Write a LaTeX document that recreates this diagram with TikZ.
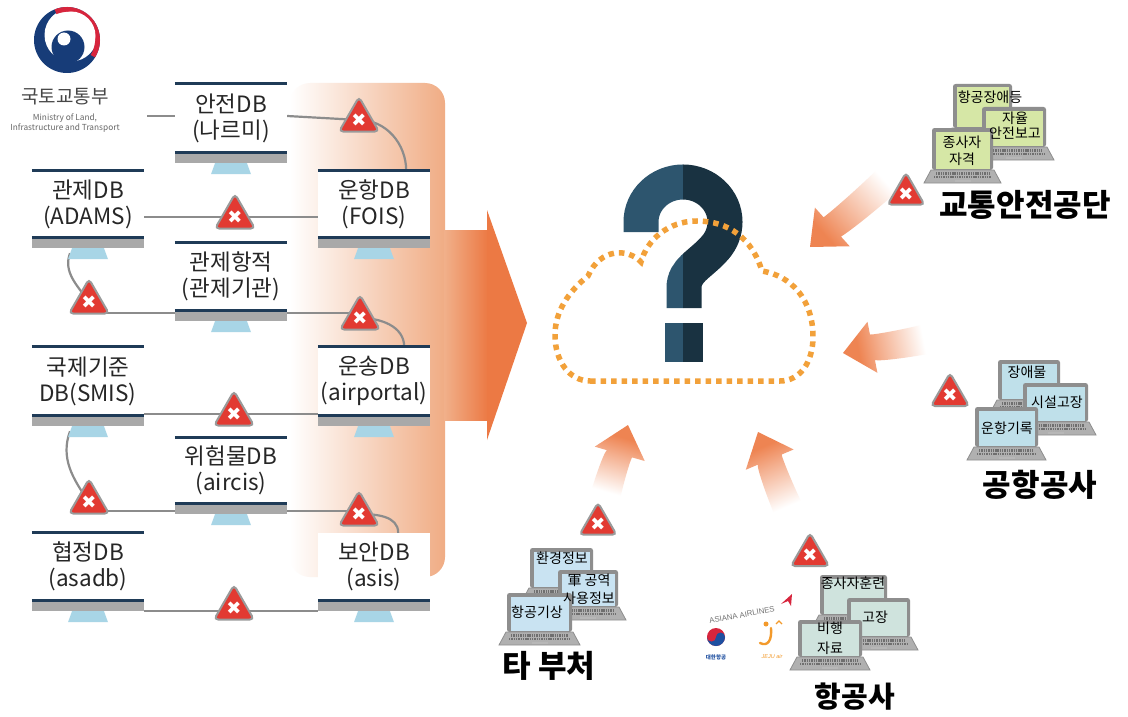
\documentclass[tikz,border=0pt]{standalone}
\usepackage{fontspec}
\setmainfont{Noto Sans CJK KR}
\newfontfamily\symfont{DejaVu Sans}
\newfontfamily\latinfont{Liberation Sans}
\usetikzlibrary{shapes.geometric,calc}

\definecolor{navy}{HTML}{1F3B57}
\definecolor{barGray}{HTML}{A9A9A9}
\definecolor{standBlue}{HTML}{A8D5E6}
\definecolor{linkGray}{HTML}{8C8C8C}
\definecolor{warnRed}{HTML}{E23A32}
\definecolor{warnEdge}{HTML}{9A9A9A}
\definecolor{peach}{HTML}{F0AC84}
\definecolor{arrowOrange}{HTML}{EC7944}
\definecolor{softOrange}{HTML}{EE8452}
\definecolor{cloudOrange}{HTML}{F2A13A}
\definecolor{qLight}{HTML}{2D556E}
\definecolor{qDark}{HTML}{193241}
\definecolor{scrGreen}{HTML}{D6E7A6}
\definecolor{scrBlue}{HTML}{BFE0EA}
\definecolor{scrSky}{HTML}{C9E3F2}
\definecolor{scrTeal}{HTML}{CFE3DD}
\definecolor{frameGray}{HTML}{8E8E8E}
\definecolor{keyGray}{HTML}{B0B0B0}
\definecolor{keyDark}{HTML}{6F6F6F}
\definecolor{emblemBlue}{HTML}{173C78}
\definecolor{emblemRed}{HTML}{D7253D}
\definecolor{kalBlue}{HTML}{1E4FA0}
\definecolor{jejuOrange}{HTML}{F39A2B}

\pgfdeclarelayer{back}
\pgfdeclarelayer{links}
\pgfsetlayers{back,links,main}

% fade from white (tail) to orange (head) along x
\pgfdeclarehorizontalshading{softfade}{100bp}{color(0bp)=(white); color(25bp)=(white); color(38bp)=(white); color(58bp)=(softOrange!65); color(68bp)=(softOrange); color(100bp)=(softOrange)}

\tikzset{
  dbscreen/.style={fill=white, minimum width=112pt, inner sep=0pt, align=center, text=black!85, font=\fontsize{22.5}{26}\selectfont},
  link/.style={draw=linkGray, line width=2.2pt},
  topline/.style={draw=navy, line width=3pt},
  warn/.style={regular polygon, regular polygon sides=3, minimum size=#1, inner sep=0pt, fill=warnRed, draw=warnEdge, line width=2pt, rounded corners=4pt, text=white, font=\symfont\fontsize{18}{18}\selectfont},
  warn/.default=46pt,
  laptag/.style={inner sep=0pt, align=center, text=black, font=\fontsize{14}{16}\selectfont},
  org/.style={inner sep=0pt, text=black, font=\bfseries\fontsize{31}{31}\selectfont},
}

% desktop monitor: name, centre, screen height, text
\newcommand\monitor[4]{%
  \node[dbscreen, minimum height=#3] (#1) at #2 {#4};
  \fill[barGray] ($(#1.south west)+(0,1)$) rectangle ($(#1.south east)+(0,11)$);
  \draw[navy, line width=3pt] (#1.south west) -- (#1.south east);
  \fill[standBlue] ($(#1.south)+(-16,11)$) -- ($(#1.south)+(16,11)$) -- ($(#1.south)+(20,22)$) -- ($(#1.south)+(-20,22)$) -- cycle;
  \coordinate (#1-st) at ($(#1.south)+(-18,16)$);
}

% laptop: x1, y1, x2, y2 of the lid, screen colour
\newcommand\laptop[5]{%
  \fill[frameGray, rounded corners=2.5pt] (#1,#2) rectangle (#3,#4);
  \fill[#5] (#1+3.5,#2+3.5) rectangle (#3-3.5,#4-1);
  \fill[keyGray, draw=frameGray, line width=0.8pt] (#1-1,#4) -- (#3+1,#4) -- (#3+8,#4+13) -- (#1-8,#4+13) -- cycle;
  \draw[keyDark, line width=2.2pt, dash pattern=on 1.4pt off 0.9pt] (#1+4,#4+3.5) -- (#3-4,#4+3.5);
  \draw[keyDark, line width=2.2pt, dash pattern=on 1.4pt off 0.9pt] (#1+2,#4+7) -- (#3-2,#4+7);
  \fill[keyDark!50] ($(#1,#4)!0.5!(#3,#4)+(-8,10)$) rectangle ++(16,2);
}

% soft gradient arrow: tip, direction, length
\newcommand\softarrow[3]{%
  \begin{scope}[transform canvas={shift={#1}, rotate=#2}]
    \shade[shading=softfade] (-#3,-17) .. controls ({-0.6*#3},-18) and ({-0.3*#3},-15) .. (-30,-13) -- (-30,-26) -- (0,0) -- (-30,26) -- (-30,13) .. controls ({-0.3*#3},12) and ({-0.6*#3},11) .. (-#3,14) -- cycle;
  \end{scope}}

% question mark stroke
\newcommand\qmark[1]{%
  \draw[line width=35pt, #1] (641,232) -- (641,222) arc[start angle=180, end angle=400, x radius=42, y radius=40] .. controls (700,265) and (684,270) .. (684,288) -- (684,308);
  \fill[#1] (665,323) rectangle (703,362);
}

\begin{document}
\begin{tikzpicture}[x=1pt, y=-1pt]
\useasboundingbox (0,0) rectangle (1128,717);

\begin{pgfonlayer}{back}
  \fill[white] (0,0) rectangle (1128,717);
  % backdrop behind the right column and the big arrow
  \shade[left color=white, right color=peach, rounded corners=20pt] (290,83) rectangle (445,577);
  \shade[left color=peach!95, right color=arrowOrange] (444,230) rectangle (488,420);
  \fill[arrowOrange] (487,210) -- (527,323) -- (487,440) -- cycle;
  % soft arrows toward the cloud
  \softarrow{(810,247)}{222}{135}
  \softarrow{(843,353)}{191}{110}
  \softarrow{(628,425)}{74}{95}
  \softarrow{(758,432)}{113}{108}
\end{pgfonlayer}

% database monitors
\monitor{A}{(231,118)}{68}{안전DB\\(나르미)}
\monitor{B}{(88,204)}{66}{관제DB\\(ADAMS)}
\monitor{C}{(374,204)}{66}{운항DB\\(FOIS)}
\monitor{D}{(231,276.5)}{67}{관제항적\\(관제기관)}
\monitor{E}{(88,381)}{68}{국제기준\\DB(SMIS)}
\monitor{F}{(374,381)}{68}{운송DB\\(airportal)}
\monitor{G}{(231,470.5)}{65}{위험물DB\\(aircis)}
\monitor{H}{(88,566.5)}{67}{협정DB\\(asadb)}
\monitor{I}{(374,566.5)}{67}{보안DB\\(asis)}
\foreach \m in {A,B,C,D,E,F,G,H}
  \draw[topline] (\m.north west) -- (\m.north east);

% warning signs
\node[warn] (W1) at (359,120) {✖};
\node[warn] (W2) at (235,217) {✖};
\node[warn] (W3) at (89,302) {✖};
\node[warn] (W4) at (360,318) {✖};
\node[warn] (W5) at (234,414) {✖};
\node[warn] (W6) at (89,502) {✖};
\node[warn] (W7) at (359,514) {✖};
\node[warn] (W8) at (234,608) {✖};

% broken links between the databases
\coordinate (logoEnd) at (147,116);
\coordinate (dL) at ($(D.south west)+(0,3)$);
\coordinate (dR) at ($(D.south east)+(0,3)$);
\coordinate (gL) at ($(G.south west)+(0,8)$);
\coordinate (gR) at ($(G.south east)+(0,8)$);
\coordinate (hR) at ($(H.south east)+(0,11)$);
\begin{pgfonlayer}{links}
  \draw[link] (logoEnd) -- (A.west |- logoEnd);
  \draw[link] (A.east |- logoEnd) -- (W1.center);
  \draw[link] (W1.center) to[out=0, in=90] ($(C.north east)+(-24,0)$);
  \draw[link] (B.east |- W2.center) -- (C.west |- W2.center);
  \draw[link] (B-st) to[out=250, in=125] (W3.center);
  \draw[link] (W3.center |- dL) -- (dL);
  \draw[link] (dR) -- (W4.center |- dR);
  \draw[link] (W4.center) to[out=0, in=90] ($(F.north east)+(-26,0)$);
  \draw[link] (E.east |- W5.center) -- (F.west |- W5.center);
  \draw[link] (E-st) to[out=250, in=125] (W6.center);
  \draw[link] (W6.center |- gL) -- (gL);
  \draw[link] (gR) -- (W7.center |- gR);
  \draw[link] (W7.center) to[out=0, in=90] ($(I.north east)+(-32,0)$);
  \draw[link] (hR) -- (I.west |- hR);
\end{pgfonlayer}

% ministry emblem and name
\begin{scope}[shift={(67,40)}, x=1pt, y=1pt]
  \fill[emblemBlue] (0,0) circle (33);
  \fill[white] (4,5) circle (26.5);
  \draw[emblemRed, line width=5pt] (112:30.5) arc[start angle=112, end angle=-32, radius=30.5];
  \fill[white] (4,4) circle (24.5);
  \fill[emblemBlue] (1,-7) circle (16.5);
  \fill[white] (-3,1) circle (6.5);
\end{scope}
\node[inner sep=0pt, text=black!72, font=\fontsize{19}{20}\selectfont] (molit) at (65,97) {국토교통부};
\node[inner sep=0pt, align=center, text=black!60, font=\fontsize{8.3}{10.5}\selectfont] (molitEn) at (65,123) {Ministry of Land,\\Infrastructure and Transport};

% question mark inside the dotted cloud
\begin{scope}
  \clip (600,150) rectangle (683,380);
  \qmark{qLight}
\end{scope}
\begin{scope}
  \clip (683,150) rectangle (760,380);
  \qmark{qDark}
\end{scope}
\draw[cloudOrange, line width=5.5pt, dash pattern=on 5.5pt off 5pt]
  (590,381) -- (780,381) .. controls (800,381) and (813,362) .. (813,337)
  .. controls (813,300) and (792,276) .. (762,271)
  .. controls (752,238) and (728,221) .. (697,221)
  .. controls (668,221) and (647,240) .. (641,262)
  .. controls (628,248) and (600,248) .. (588,276)
  .. controls (568,292) and (555,312) .. (555,335)
  .. controls (555,362) and (570,381) .. (590,381) -- cycle;

% traffic safety authority
\laptop{953}{84}{1012}{128}{scrGreen}
\laptop{982}{107}{1046}{147}{scrGreen}
\laptop{932}{128}{993}{170}{scrGreen}
\node[laptag] (ts1) at (990,97) {항공장애등};
\node[laptag, font=\fontsize{14}{15}\selectfont] (ts2) at (1015,126) {자율\\안전보고};
\node[laptag, font=\fontsize{14}{17}\selectfont] (ts3) at (962,151) {종사자\\자격};
\node[warn=38pt] (W9) at (906,194) {✖};
\node[org] (kotsa) at (1025,205) {교통안전공단};

% airport corporation
\laptop{998}{360}{1060}{400}{scrBlue}
\laptop{1023}{383}{1088}{422}{scrBlue}
\laptop{975}{407}{1038}{447}{scrBlue}
\node[laptag] (ap1) at (1027,372) {장애물};
\node[laptag] (ap2) at (1057,402) {시설고장};
\node[laptag] (ap3) at (1007,428) {운항기록};
\node[warn=44pt] (W10) at (950,395) {✖};
\node[org] (airport) at (1040,485) {공항공사};

% other ministries
\laptop{530}{548}{593}{588}{scrSky}
\laptop{558}{570}{618}{607}{scrSky}
\laptop{507}{593}{572}{632}{scrSky}
\node[laptag] (om1) at (562,558) {환경정보};
\node[laptag, font=\fontsize{14}{18}\selectfont] (om2) at (589,589) {軍 공역\\사용정보};
\node[laptag] (om3) at (537,612) {항공기상};
\node[warn=42pt] (W11) at (598,524) {✖};
\node[org] (others) at (549,666) {타 부처};

% airlines
\laptop{820}{575}{887}{615}{scrTeal}
\laptop{847}{598}{910}{637}{scrTeal}
\laptop{798}{620}{862}{657}{scrTeal}
\node[laptag] (al1) at (853,583) {종사자훈련};
\node[laptag] (al2) at (875,617) {고장};
\node[laptag, font=\fontsize{14}{20}\selectfont] (al3) at (830,638) {비행\\자료};
\node[warn=44pt] (W12) at (810,555) {✖};
\node[org, font=\bfseries\fontsize{29}{29}\selectfont] (airlines) at (855,697) {항공사};

% airline marks
\node[rotate=11, inner sep=0pt, text=black!55, font=\latinfont\fontsize{7.8}{8}\selectfont] (asiana) at (742,615) {ASIANA AIRLINES};
\fill[emblemRed] (781,604) -- (792,594) -- (791,606) -- (788,601) -- cycle;
\begin{scope}[shift={(716,637)}, x=1pt, y=1pt]
  \fill[emblemRed] (0,0) circle (9);
  \fill[kalBlue] (-9,0) arc[start angle=180, end angle=360, radius=9] -- cycle;
  \fill[emblemRed] (-4.5,0) circle (4.5);
  \fill[kalBlue] (4.5,0) circle (4.5);
\end{scope}
\node[inner sep=0pt, text=kalBlue, font=\bfseries\fontsize{5.5}{6}\selectfont] (kal) at (716,657) {대한항공};
\fill[jejuOrange] (766,624) circle (2.5);
\draw[jejuOrange, line width=2.4pt, line cap=round] (771,628) .. controls (772,640) and (768,647) .. (760,643);
\draw[jejuOrange, line width=1.2pt] (776,624) -- (779,621) -- (782,624);
\node[inner sep=0pt, text=jejuOrange, font=\latinfont\itshape\fontsize{5.5}{6}\selectfont] (jeju) at (772,657) {JEJU air};
\end{tikzpicture}
\end{document}
